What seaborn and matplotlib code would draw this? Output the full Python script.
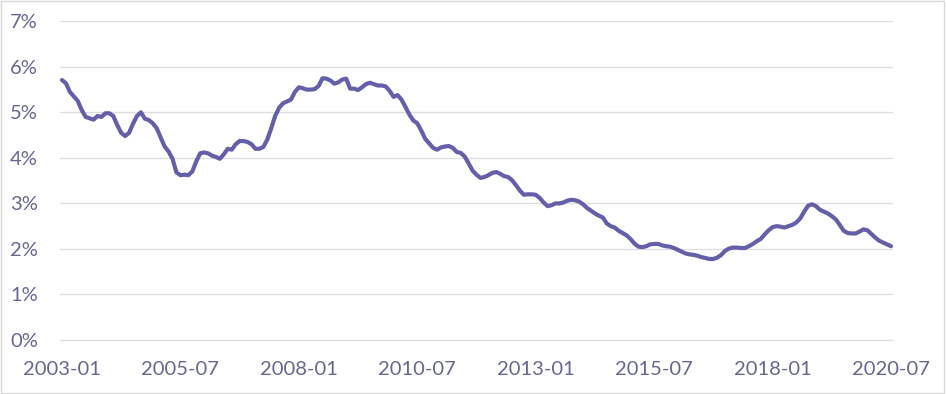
import seaborn as sns
import numpy as np
import pandas as pd
import matplotlib.pyplot as plt
from matplotlib.patches import Rectangle
from matplotlib.ticker import FuncFormatter

# monthly values (%), 2003-01 .. 2020-07
start_month = "2003-01"
y2003 = [5.71, 5.64, 5.45, 5.35, 5.25, 5.05, 4.90, 4.87, 4.84, 4.92, 4.90, 4.98]
y2004 = [4.98, 4.92, 4.72, 4.55, 4.48, 4.55, 4.75, 4.92, 5.00, 4.86, 4.83, 4.76]
y2005 = [4.65, 4.45, 4.25, 4.14, 3.98, 3.68, 3.62, 3.63, 3.62, 3.70, 3.92, 4.10]
y2006 = [4.12, 4.10, 4.05, 4.02, 3.98, 4.08, 4.20, 4.18, 4.30, 4.37, 4.37, 4.35]
y2007 = [4.30, 4.20, 4.20, 4.24, 4.40, 4.65, 4.92, 5.10, 5.20, 5.24, 5.28, 5.45]
y2008 = [5.55, 5.53, 5.50, 5.50, 5.51, 5.58, 5.75, 5.74, 5.70, 5.63, 5.66, 5.72]
y2009 = [5.74, 5.52, 5.52, 5.49, 5.55, 5.62, 5.65, 5.62, 5.59, 5.59, 5.57, 5.47]
y2010 = [5.34, 5.38, 5.28, 5.12, 4.95, 4.82, 4.76, 4.60, 4.42, 4.32, 4.22, 4.18]
y2011 = [4.23, 4.25, 4.26, 4.22, 4.13, 4.11, 4.03, 3.88, 3.72, 3.63, 3.56, 3.58]
y2012 = [3.62, 3.67, 3.69, 3.65, 3.60, 3.58, 3.51, 3.40, 3.28, 3.19, 3.20, 3.20]
y2013 = [3.19, 3.12, 3.02, 2.94, 2.96, 3.00, 3.00, 3.02, 3.06, 3.08, 3.07, 3.04]
y2014 = [2.98, 2.90, 2.84, 2.78, 2.73, 2.69, 2.56, 2.50, 2.47, 2.40, 2.35, 2.30]
y2015 = [2.22, 2.12, 2.05, 2.04, 2.06, 2.10, 2.11, 2.11, 2.08, 2.06, 2.05, 2.02]
y2016 = [1.98, 1.94, 1.90, 1.88, 1.87, 1.85, 1.82, 1.80, 1.78, 1.78, 1.81, 1.87]
y2017 = [1.96, 2.01, 2.03, 2.03, 2.02, 2.02, 2.06, 2.11, 2.17, 2.22, 2.32, 2.41]
y2018 = [2.48, 2.50, 2.49, 2.47, 2.50, 2.53, 2.58, 2.67, 2.82, 2.95, 2.98, 2.94]
y2019 = [2.86, 2.82, 2.78, 2.72, 2.65, 2.53, 2.40, 2.35, 2.34, 2.34, 2.38, 2.43]
y2020 = [2.41, 2.33, 2.25, 2.18, 2.14, 2.10, 2.06]

values = (y2003 + y2004 + y2005 + y2006 + y2007 + y2008 + y2009 + y2010 + y2011
          + y2012 + y2013 + y2014 + y2015 + y2016 + y2017 + y2018 + y2019 + y2020)
months = pd.period_range(start_month, periods=len(values), freq="M")
df = pd.DataFrame({"idx": np.arange(len(values)), "month": months.strftime("%Y-%m"), "rate": values})

line_color = "#645fa8"
text_color = "#66668f"
grid_color = "#dcdce4"

sns.set_style("white")
plt.rcParams["font.family"] = ["Lato", "DejaVu Sans"]

fig = plt.figure(figsize=(9.46, 3.94), dpi=100)
ax = fig.add_axes([60 / 946, 54 / 394, 833 / 946, 318.7 / 394])

sns.lineplot(data=df, x="idx", y="rate", ax=ax, color=line_color, linewidth=3.0)

ax.set_xlim(-0.5, len(values) - 0.5)
ax.set_ylim(0, 7)
ax.set_yticks(range(0, 8))
ax.yaxis.set_major_formatter(FuncFormatter(lambda v, p: f"{v:.0f}%"))
tick_pos = df["idx"][::30]
ax.set_xticks(tick_pos)
ax.set_xticklabels(df["month"][::30])

ax.grid(axis="y", color=grid_color, linewidth=0.9)
ax.set_axisbelow(True)
for side in ["left", "right", "top"]:
    ax.spines[side].set_visible(False)
ax.spines["bottom"].set_color(grid_color)
ax.spines["bottom"].set_linewidth(0.9)

ax.tick_params(axis="both", length=0, labelsize=14.5, labelcolor=text_color)
ax.tick_params(axis="y", pad=16)
ax.tick_params(axis="x", pad=15)
ax.set_xlabel("")
ax.set_ylabel("")

fig.patches.append(Rectangle((0.001, 0.002), 0.997, 0.995, transform=fig.transFigure,
                             fill=False, edgecolor="#d9d9d9", linewidth=1.0))

fig.savefig("out.png", dpi=100)
